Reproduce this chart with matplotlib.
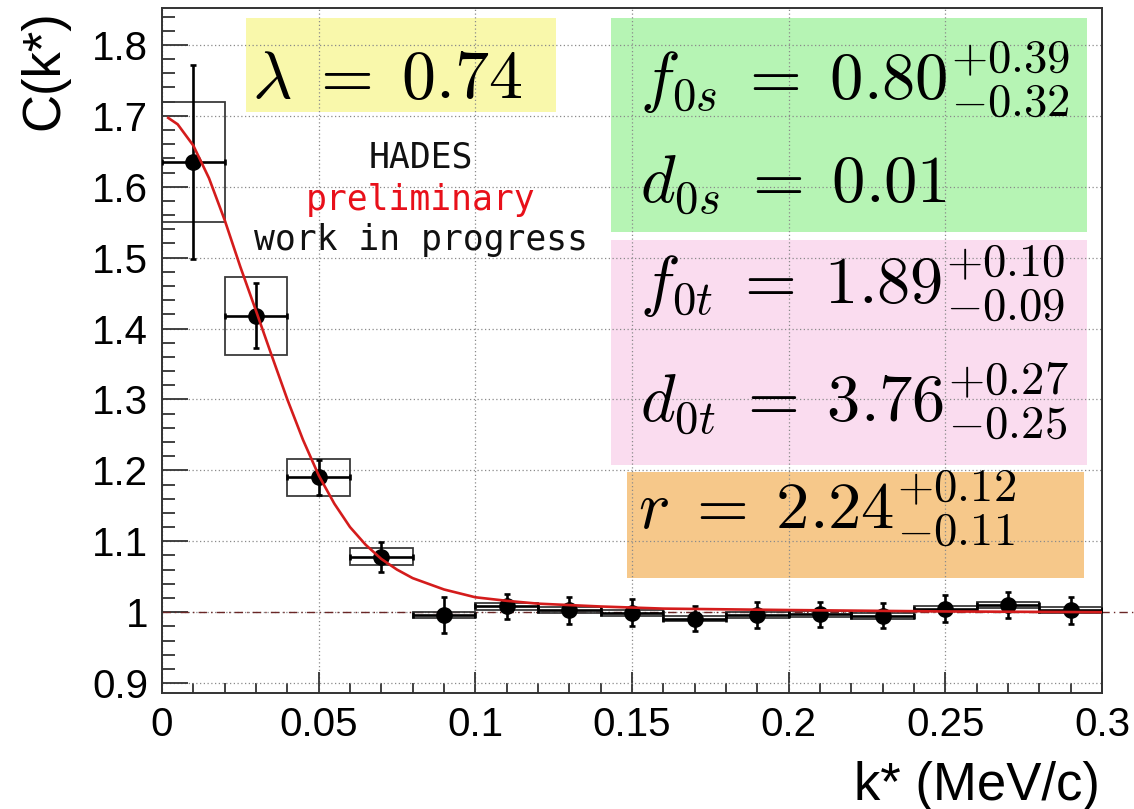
import matplotlib
matplotlib.use('Agg')
import matplotlib.pyplot as plt
from matplotlib.patches import Rectangle

# ---------------- data ----------------
k_star = [0.01, 0.03, 0.05, 0.07, 0.09, 0.11, 0.13, 0.15, 0.17, 0.19, 0.21, 0.23, 0.25, 0.27, 0.29]
corr = [1.635, 1.418, 1.190, 1.078, 0.996, 1.008, 1.003, 0.999, 0.991, 0.996, 0.997, 0.995, 1.005, 1.010, 1.003]
stat_err = [0.137, 0.046, 0.025, 0.021, 0.025, 0.018, 0.019, 0.019, 0.018, 0.018, 0.018, 0.018, 0.019, 0.018, 0.019]
sys_err = [0.085, 0.055, 0.026, 0.012, 0.004, 0.005, 0.004, 0.004, 0.004, 0.004, 0.004, 0.004, 0.004, 0.004, 0.004]
bin_half = [0.01] * 15

fit_k = [0.002, 0.005, 0.010, 0.015, 0.020, 0.025, 0.030, 0.035, 0.040, 0.045, 0.050, 0.055,
         0.060, 0.065, 0.070, 0.075, 0.080, 0.090, 0.100, 0.110, 0.120, 0.140, 0.160, 0.200,
         0.250, 0.300]
fit_c = [1.697, 1.688, 1.658, 1.612, 1.553, 1.487, 1.425, 1.362, 1.300, 1.243, 1.193, 1.153,
         1.120, 1.095, 1.075, 1.060, 1.048, 1.032, 1.021, 1.016, 1.012, 1.008, 1.005, 1.003,
         1.001, 1.000]

x_ticks = [0, 0.05, 0.1, 0.15, 0.2, 0.25, 0.3]
x_tick_labels = ['0', '0.05', '0.1', '0.15', '0.2', '0.25', '0.3']
y_ticks = [0.9, 1.0, 1.1, 1.2, 1.3, 1.4, 1.5, 1.6, 1.7, 1.8]
y_tick_labels = ['0.9', '1', '1.1', '1.2', '1.3', '1.4', '1.5', '1.6', '1.7', '1.8']

lambda_txt = r'$\lambda\;=\;0.74$'
param_txt = [r'$f_{0s}\;=\;0.80^{+0.39}_{-0.32}$',
             r'$d_{0s}\;=\;0.01$',
             r'$f_{0t}\;=\;1.89^{+0.10}_{-0.09}$',
             r'$d_{0t}\;=\;3.76^{+0.27}_{-0.25}$',
             r'$r\;=\;2.24^{+0.12}_{-0.11}$']
hades_txt = ['HADES', 'preliminary', 'work in progress']
hades_col = ['#111111', '#e8101a', '#111111']

# ---------------- figure ----------------
plt.rcParams['mathtext.fontset'] = 'cm'
plt.rcParams['font.family'] = ['Liberation Sans', 'DejaVu Sans']

W, H = 1134, 809
fig = plt.figure(figsize=(W / 100, H / 100), dpi=100)
fig.patch.set_facecolor('white')
AX_L, AX_R, AX_T, AX_B = 162, 1102, 8, 693
ax = fig.add_axes([AX_L / W, 1 - AX_B / H, (AX_R - AX_L) / W, (AX_B - AX_T) / H])
ax.set_xlim(0, 0.3)
ax.set_ylim(0.886, 1.852)


def axc(px, py):
    return ((px - AX_L) / (AX_R - AX_L), (AX_B - py) / (AX_B - AX_T))


def add_box(x0, y0, x1, y1, color):
    a0 = axc(x0, y1)
    a1 = axc(x1, y0)
    ax.add_patch(Rectangle(a0, a1[0] - a0[0], a1[1] - a0[1], transform=ax.transAxes,
                           facecolor=color, edgecolor='none', zorder=0.2))


# colored parameter boxes (under the grid)
add_box(246, 18, 556, 112, '#f9f8ab')
add_box(611, 18, 1087, 232, '#b6f4b4')
add_box(611, 240, 1087, 465, '#fadcef')
add_box(627, 472, 1084, 578, '#f6c88a')

# grid
ax.set_axisbelow(True)
ax.grid(True, which='major', linestyle=(0, (1, 2)), color='#8a8a8a', linewidth=0.9)

# ticks
ax.set_xticks(x_ticks)
ax.set_xticklabels(x_tick_labels)
ax.set_yticks(y_ticks)
ax.set_yticklabels(y_tick_labels)
ax.set_xticks([i * 0.01 for i in range(31)], minor=True)
ax.set_yticks([0.9 + i * 0.02 for i in range(48)], minor=True)
ax.tick_params(direction='in', which='both', top=False, right=False, labelsize=29,
               color='#333333', width=1.3)
ax.tick_params(axis='y', which='major', length=19, pad=10)
ax.tick_params(axis='y', which='minor', length=9)
ax.tick_params(axis='x', which='major', length=15, pad=9)
ax.tick_params(axis='x', which='minor', length=7)
for s in ax.spines.values():
    s.set_linewidth(1.4)
    s.set_color('#333333')

# y=1 dash-dot reference line (extends past the frame)
ax.plot([0, 0.311], [1, 1], color='#6a2626', lw=1.0, linestyle=(0, (6, 3, 1, 3)),
        clip_on=False, zorder=1.5)

# systematic boxes
for kk, cc, ss, hw in zip(k_star, corr, sys_err, bin_half):
    ax.add_patch(Rectangle((kk - hw, cc - ss), 2 * hw, 2 * ss, facecolor='none',
                           edgecolor='#3a3a3a', lw=1.3, zorder=2))

# data with stat errors
ax.errorbar(k_star, corr, yerr=stat_err, xerr=bin_half, fmt='o', color='black',
            markersize=11, elinewidth=1.9, capsize=2.5, capthick=1.9, zorder=4)

# fit curve
ax.plot(fit_k, fit_c, color='#d41c1c', lw=1.9, zorder=6)

# labels
fig.text(44 / W, 1 - 10 / H, 'C(k*)', rotation=90, ha='center', va='top', fontsize=38)
fig.text(1100 / W, 1 - 800 / H, 'k* (MeV/c)', ha='right', va='baseline', fontsize=38)

# annotation texts
def ftext(px, py, s, **kw):
    fig.text(px / W, 1 - py / H, s, **kw)

ftext(252, 98, lambda_txt, ha='left', va='baseline', fontsize=49, zorder=10)
param_pos = [(640, 101), (640, 203), (640, 305), (640, 423), (638, 530)]
for (px, py), s in zip(param_pos, param_txt):
    ftext(px, py, s, ha='left', va='baseline', fontsize=48, zorder=10)

hades_y = [168, 210, 250]
for s, c, py in zip(hades_txt, hades_col, hades_y):
    ftext(421, py, s, ha='center', va='baseline', fontsize=25, color=c,
          family='DejaVu Sans Mono', zorder=10)

fig.savefig('out.png', dpi=100, facecolor='white')
